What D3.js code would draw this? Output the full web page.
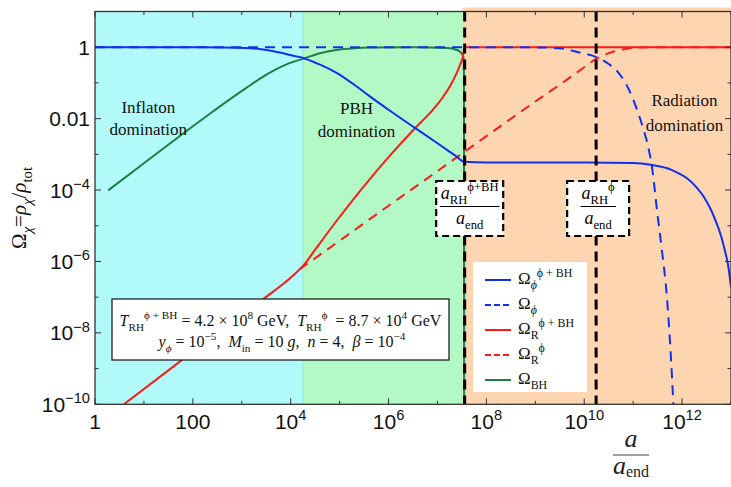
<!DOCTYPE html>
<html>
<head>
<meta charset="utf-8">
<script src="https://cdn.jsdelivr.net/npm/d3@7"></script>
<style>
  body { margin: 0; background: #fff; }
  svg { display: block; }
  text { white-space: pre; }
</style>
</head>
<body>
<svg id="chart" width="731" height="487"></svg>
<script>
// ---- data (log10 of a/a_end, log10 of Omega) ----
const phiBH_loga = [0, 1, 2, 2.6, 3.07, 3.4, 3.75, 4.09, 4.26, 4.39, 4.59, 4.93, 5.3, 5.61, 6.0, 6.54, 7.0, 7.38, 7.55, 8, 9, 10, 11.0, 11.4, 11.7, 11.9, 12.1, 12.3, 12.45, 12.6, 12.71, 12.8, 12.88, 12.94, 13.0];
const phiBH_logO = [0, 0, 0, -0.005, -0.02, -0.06, -0.14, -0.25, -0.30, -0.37, -0.48, -0.71, -1.05, -1.37, -1.75, -2.26, -2.69, -3.05, -3.21, -3.23, -3.23, -3.23, -3.24, -3.30, -3.39, -3.51, -3.67, -3.93, -4.20, -4.58, -4.95, -5.30, -5.72, -6.10, -6.72];

const phi_loga = [0, 4, 8, 9, 9.5, 9.9, 10.27, 10.5, 10.71, 10.9, 11.06, 11.2, 11.29, 11.39, 11.49, 11.58, 11.69, 11.76, 11.83];
const phi_logO = [0, 0, 0, -0.005, -0.03, -0.15, -0.29, -0.47, -0.73, -1.15, -1.68, -2.25, -2.69, -3.40, -4.60, -5.60, -7.00, -8.40, -10.2];

const radBH_loga = [0.59, 1.5, 2.5, 3.54, 3.9, 4.1, 4.29, 4.5, 4.94, 5.6, 6.0, 6.54, 6.9, 7.11, 7.27, 7.38, 7.46, 7.52, 7.55, 8, 13];
const radBH_logO = [-10.0, -9.05, -8.0, -6.95, -6.57, -6.33, -6.06, -5.67, -4.86, -3.72, -3.08, -2.27, -1.76, -1.40, -1.06, -0.76, -0.50, -0.26, 0, 0, 0];

const rad_loga = [4.18, 5, 6, 7, 8, 9, 9.5, 9.9, 10.28, 10.6, 10.87, 11.2, 13];
const rad_logO = [-6.22, -5.42, -4.44, -3.47, -2.49, -1.52, -1.05, -0.66, -0.30, -0.12, -0.04, -0.005, 0];

const bh_loga = [0.27, 1.0, 1.7, 2.39, 3.07, 3.54, 3.95, 4.26, 4.6, 4.93, 5.3, 5.61, 6.5, 7.2, 7.38, 7.47, 7.53, 7.543, 7.546];
const bh_logO = [-4.01, -3.25, -2.52, -1.82, -1.16, -0.74, -0.46, -0.32, -0.17, -0.08, -0.03, -0.01, 0, -0.02, -0.07, -0.14, -0.27, -0.8, -11];

// era boundaries in a/a_end
const eraEdges = [1, 1.78e4, 3.6e7, 1e13];
const eraNames = [["Inflaton", "domination"], ["PBH", "domination"], ["Radiation", "domination"]];

// reheating scale factors
const aRH_phiBH = 3.6e7;
const aRH_phi = 1.75e10;

// axis ticks
const xTickExps = [0, 2, 4, 6, 8, 10, 12];
const xTickLabels = [["1"], ["100"], ["10", "4"], ["10", "6"], ["10", "8"], ["10", "10"], ["10", "12"]];
const yTickExps = [0, -2, -4, -6, -8, -10];
const yTickLabels = [["1"], ["0.01"], ["10", "\u22124"], ["10", "\u22126"], ["10", "\u22128"], ["10", "\u221210"]];

// ---- drawing ----
const svg = d3.select("#chart");
const SERIF = "'Liberation Serif', 'Times New Roman', serif";
const SANS = "'Liberation Sans', Arial, sans-serif";

const x = d3.scaleLog().domain([1, 1e13]).range([95, 731]);
const y = d3.scaleLog().domain([1e-10, 10]).range([404.3, 11.5]);
const [x0, x1] = x.range();
const [y0, y1] = y.range();

// rich text helper: parts = [{t, sub, sup, it}]
function rich(textSel, parts, fs) {
  let cur = 0;
  parts.forEach(p => {
    const off = p.sup ? -0.42 * fs : p.sub ? 0.3 * fs : 0;
    const size = (p.sup || p.sub) ? 0.7 * fs : fs;
    textSel.append("tspan")
      .attr("dy", (off - cur).toFixed(2))
      .attr("font-size", size)
      .attr("font-style", p.it ? "italic" : "normal")
      .text(p.t);
    cur = off;
  });
  return textSel;
}

svg.append("defs").append("clipPath").attr("id", "plotClip")
  .append("rect").attr("x", x0).attr("y", y1).attr("width", x1 - x0).attr("height", y0 - y1);

// era backgrounds
const eraFill = ["#b2fafa", "#b3f9c6", "#fdd6b1"];
const bg = svg.append("g");
eraEdges.slice(0, -1).forEach((e, i) => {
  const top = i === 2 ? y1 - 4 : y1;
  bg.append("rect")
    .attr("x", x(e) - (i === 2 ? 2 : 0))
    .attr("y", top)
    .attr("width", x(eraEdges[i + 1]) - x(e) + (i === 2 ? 2 : 0))
    .attr("height", y0 - top)
    .attr("fill", eraFill[i]);
});
bg.append("line")
  .attr("x1", x(eraEdges[1])).attr("x2", x(eraEdges[1]))
  .attr("y1", y1).attr("y2", y0)
  .attr("stroke", "#8fe9cf").attr("stroke-width", 1);

// curves
const line = d3.line()
  .x(d => x(Math.pow(10, d[0])))
  .y(d => y(Math.pow(10, d[1])))
  .curve(d3.curveMonotoneX);
const zip = (a, b) => a.map((v, i) => [v, b[i]]);

const curves = svg.append("g").attr("clip-path", "url(#plotClip)");
const series = [
  { d: zip(bh_loga, bh_logO), color: "#1a8043", dash: null },
  { d: zip(radBH_loga, radBH_logO), color: "#ff1a1a", dash: null },
  { d: zip(rad_loga, rad_logO), color: "#ff1a1a", dash: "10,7" },
  { d: zip(phiBH_loga, phiBH_logO), color: "#1030f0", dash: null },
  { d: zip(phi_loga, phi_logO), color: "#1030f0", dash: "10,7" }
];
series.forEach(s => {
  curves.append("path")
    .attr("d", line(s.d))
    .attr("fill", "none")
    .attr("stroke", s.color)
    .attr("stroke-width", 2)
    .attr("stroke-dasharray", s.dash);
});

// era labels
const eraLabelPos = [
  { a: Math.pow(10, 1.09), yv: [Math.pow(10, -1.85), Math.pow(10, -2.47)] },
  { a: Math.pow(10, 5.345), yv: [Math.pow(10, -1.86), Math.pow(10, -2.52)] },
  { a: Math.pow(10, 12.05), yv: [Math.pow(10, -1.66), Math.pow(10, -2.36)] }
];
eraNames.forEach((nm, i) => {
  nm.forEach((s, j) => {
    svg.append("text")
      .attr("x", x(eraLabelPos[i].a))
      .attr("y", y(eraLabelPos[i].yv[j]))
      .attr("text-anchor", "middle")
      .attr("font-family", SERIF)
      .attr("font-size", 17)
      .attr("fill", "#111")
      .text(s);
  });
});

// reheating markers
[aRH_phiBH, aRH_phi].forEach(a => {
  svg.append("line")
    .attr("x1", x(a)).attr("x2", x(a))
    .attr("y1", y1).attr("y2", y0)
    .attr("stroke", "#000").attr("stroke-width", 3)
    .attr("stroke-dasharray", "10,6");
});

function rhBox(a, sup, w, dx) {
  const cx = x(a) + dx;
  const g = svg.append("g");
  g.append("rect")
    .attr("x", cx - w / 2).attr("y", 181)
    .attr("width", w).attr("height", 55)
    .attr("fill", "#fff").attr("stroke", "#000")
    .attr("stroke-width", 2.2).attr("stroke-dasharray", "7,4");
  const num = g.append("text").attr("x", cx).attr("y", 199)
    .attr("text-anchor", "middle").attr("font-family", SERIF).attr("fill", "#000");
  rich(num, [{ t: "a", it: true }, { t: "RH", sub: true }, { t: sup, sup: true }], 18);
  const bb = num.node().getBBox();
  g.append("line")
    .attr("x1", bb.x - 1).attr("x2", bb.x + bb.width + 1)
    .attr("y1", 206.5).attr("y2", 206.5)
    .attr("stroke", "#000").attr("stroke-width", 1);
  const den = g.append("text").attr("x", cx).attr("y", 224)
    .attr("text-anchor", "middle").attr("font-family", SERIF).attr("fill", "#000");
  rich(den, [{ t: "a", it: true }, { t: "end", sub: true }], 18);
}
rhBox(aRH_phiBH, "\u03d5+BH", 67, 5);
rhBox(aRH_phi, "\u03d5", 62, 2);

// legend
const lg = svg.append("g");
lg.append("rect").attr("x", 473).attr("y", 262).attr("width", 114).attr("height", 130).attr("fill", "#fff");
const legendItems = [
  { s: series[3], parts: [{ t: "\u03a9" }, { t: "\u03d5", sub: true, it: true }, { t: "\u03d5 + BH", sup: true }] },
  { s: series[4], parts: [{ t: "\u03a9" }, { t: "\u03d5", sub: true, it: true }] },
  { s: series[1], parts: [{ t: "\u03a9" }, { t: "R", sub: true }, { t: "\u03d5 + BH", sup: true }] },
  { s: series[2], parts: [{ t: "\u03a9" }, { t: "R", sub: true }, { t: "\u03d5", sup: true }] },
  { s: series[0], parts: [{ t: "\u03a9" }, { t: "BH", sub: true }] }
];
legendItems.forEach((it, i) => {
  const ly = 280 + i * 25;
  lg.append("line")
    .attr("x1", 485).attr("x2", 511).attr("y1", ly).attr("y2", ly)
    .attr("stroke", it.s.color).attr("stroke-width", 2)
    .attr("stroke-dasharray", it.s.dash ? "6,3" : null);
  const t = lg.append("text").attr("x", 518).attr("y", ly + 4)
    .attr("font-family", SERIF).attr("fill", "#111");
  rich(t, it.parts, 17);
});

// parameter box
const pb = svg.append("g");
pb.append("rect").attr("x", 112).attr("y", 299).attr("width", 337).attr("height", 61)
  .attr("fill", "#fff").attr("stroke", "#222").attr("stroke-width", 1.3);
const l1 = pb.append("text").attr("x", 280.5).attr("y", 326).attr("text-anchor", "middle")
  .attr("font-family", SERIF).attr("fill", "#111");
rich(l1, [
  { t: "T", it: true }, { t: "RH", sub: true }, { t: "\u03d5 + BH", sup: true },
  { t: " = 4.2 \u00d7 10" }, { t: "8", sup: true }, { t: " GeV,  " },
  { t: "T", it: true }, { t: "RH", sub: true }, { t: "\u03d5", sup: true },
  { t: "  = 8.7 \u00d7 10" }, { t: "4", sup: true }, { t: " GeV" }
], 16);
const l2 = pb.append("text").attr("x", 282).attr("y", 347).attr("text-anchor", "middle")
  .attr("font-family", SERIF).attr("fill", "#111");
rich(l2, [
  { t: "y", it: true }, { t: "\u03d5", sub: true, it: true }, { t: " = 10" }, { t: "\u22125", sup: true },
  { t: ",  " }, { t: "M", it: true }, { t: "in", sub: true }, { t: " = 10 " }, { t: "g", it: true },
  { t: ",  " }, { t: "n", it: true }, { t: " = 4,  " }, { t: "\u03b2", it: true },
  { t: " = 10" }, { t: "\u22124", sup: true }
], 16);

// frame and ticks
const axisG = svg.append("g");
axisG.append("rect").attr("x", x0).attr("y", y1).attr("width", x1 - x0).attr("height", y0 - y1)
  .attr("fill", "none").attr("stroke", "#333").attr("stroke-width", 1.3);
d3.range(0, 14).forEach(e => {
  const px = x(Math.pow(10, e));
  const len = e % 2 === 0 ? 6 : 3.5;
  axisG.append("line").attr("x1", px).attr("x2", px).attr("y1", y0).attr("y2", y0 - len).attr("stroke", "#333").attr("stroke-width", 1);
  axisG.append("line").attr("x1", px).attr("x2", px).attr("y1", y1).attr("y2", y1 + len).attr("stroke", "#333").attr("stroke-width", 1);
});
d3.range(-10, 2).forEach(e => {
  const py = y(Math.pow(10, e));
  const len = e % 2 === 0 ? 6 : 3.5;
  axisG.append("line").attr("x1", x0).attr("x2", x0 + len).attr("y1", py).attr("y2", py).attr("stroke", "#333").attr("stroke-width", 1);
  axisG.append("line").attr("x1", x1).attr("x2", x1 - len).attr("y1", py).attr("y2", py).attr("stroke", "#333").attr("stroke-width", 1);
});

// tick labels
xTickExps.forEach((e, i) => {
  const t = axisG.append("text").attr("x", x(Math.pow(10, e))).attr("y", 429)
    .attr("text-anchor", "middle").attr("font-family", SANS).attr("fill", "#111");
  const lab = xTickLabels[i];
  rich(t, lab.length > 1 ? [{ t: lab[0] }, { t: lab[1], sup: true }] : [{ t: lab[0] }], 21);
});
yTickExps.forEach((e, i) => {
  const t = axisG.append("text").attr("x", 90).attr("y", y(Math.pow(10, e)) + 7.5)
    .attr("text-anchor", "end").attr("font-family", SANS).attr("fill", "#111");
  const lab = yTickLabels[i];
  rich(t, lab.length > 1 ? [{ t: lab[0] }, { t: lab[1], sup: true }] : [{ t: lab[0] }], 21);
});

// axis titles
const yl = svg.append("text").attr("transform", "translate(26,208) rotate(-90)")
  .attr("text-anchor", "middle").attr("font-family", SERIF).attr("fill", "#111");
rich(yl, [
  { t: "\u03a9" }, { t: "\u03c7", sub: true, it: true }, { t: "=" },
  { t: "\u03c1", it: true }, { t: "\u03c7", sub: true, it: true }, { t: "/" },
  { t: "\u03c1", it: true }, { t: "tot", sub: true }
], 21);

svg.append("text").attr("x", 631).attr("y", 447).attr("text-anchor", "middle")
  .attr("font-family", SERIF).attr("font-style", "italic").attr("font-size", 26).attr("fill", "#222").text("a");
svg.append("line").attr("x1", 613).attr("x2", 649).attr("y1", 455).attr("y2", 455)
  .attr("stroke", "#444").attr("stroke-width", 1.2);
const xd = svg.append("text").attr("x", 631).attr("y", 474).attr("text-anchor", "middle")
  .attr("font-family", SERIF).attr("fill", "#222");
xd.append("tspan").attr("font-size", 26).attr("font-style", "italic").text("a");
xd.append("tspan").attr("font-size", 16).attr("dy", 3).text("end");
</script>
</body>
</html>
